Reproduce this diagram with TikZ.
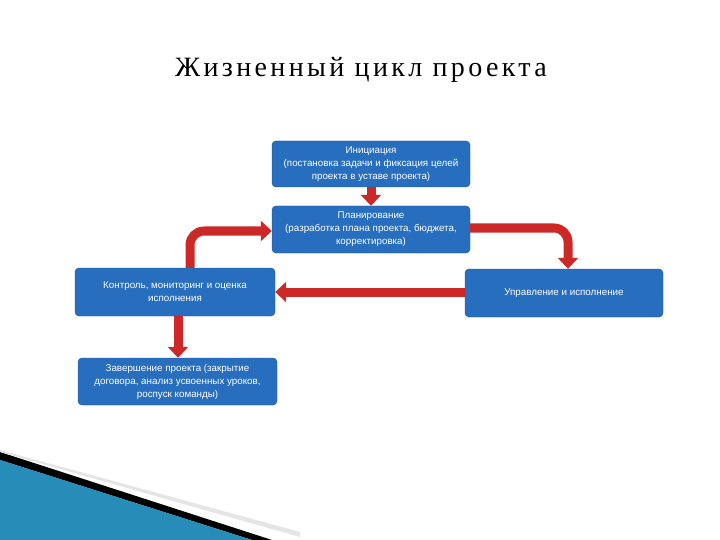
\documentclass[tikz,border=0pt]{standalone}
\usepackage{fontspec}
\setmainfont{Liberation Sans}
\newfontfamily\titlefont[LetterSpace=12]{Liberation Serif}
\usetikzlibrary{arrows.meta}
\definecolor{boxblue}{RGB}{40,110,190}
\definecolor{boxedge}{RGB}{30,80,150}
\definecolor{arrred}{RGB}{205,40,40}
\definecolor{wedge}{RGB}{40,140,185}
\begin{document}
\begin{tikzpicture}[x=1pt,y=-1pt,
  box/.style={draw=boxedge,fill=boxblue,rounded corners=4pt,text=white,align=center,font=\fontsize{9.8}{13}\selectfont,inner sep=2pt},
  flow/.style={draw=arrred,line width=9pt,-{Triangle[width=20pt,length=11pt]},rounded corners=14pt}]
\useasboundingbox (0,0) rectangle (720,540);
\fill[white] (0,0) rectangle (720,540);
% decoration
\fill[black] (0,452) -- (272,540) -- (252,540) -- (0,460) -- cycle;
\fill[wedge] (0,460) -- (252,540) -- (0,540) -- cycle;
\fill[black!10] (0,450) -- (300,532) -- (300,537) -- (0,452) -- cycle;
\node[font=\titlefont\fontsize{28}{31}\selectfont] (title) at (361,70) {Жизненный цикл проекта};
\node[box,minimum width=198pt,minimum height=46pt] (init) at (371,164) {Инициация\\(постановка задачи и фиксация целей\\проекта в уставе проекта)};
\node[box,minimum width=198pt,minimum height=47pt] (plan) at (371,229.5) {Планирование\\(разработка плана проекта, бюджета,\\корректировка)};
\node[box,minimum width=200pt,minimum height=48pt] (ctrl) at (175,292) {Контроль, мониторинг и оценка\\исполнения};
\node[box,minimum width=198pt,minimum height=48pt] (exec) at (564,293) {Управление и исполнение};
\node[box,minimum width=199pt,minimum height=47pt] (fin) at (177.5,381.5) {Завершение проекта (закрытие\\договора, анализ усвоенных уроков,\\роспуск команды)};
\draw[flow] (init.south) -- (plan.north);
\draw[flow] (plan.east |- 0,228) -| (exec.north -| 568,0);
\draw[flow] (exec.west |- 0,292) -- (ctrl.east |- 0,292);
\draw[flow] (ctrl.north -| 190,0) |- (plan.west |- 0,231);
\draw[flow] (ctrl.south -| 178,0) -- (fin.north -| 178,0);
\end{tikzpicture}
\end{document}
